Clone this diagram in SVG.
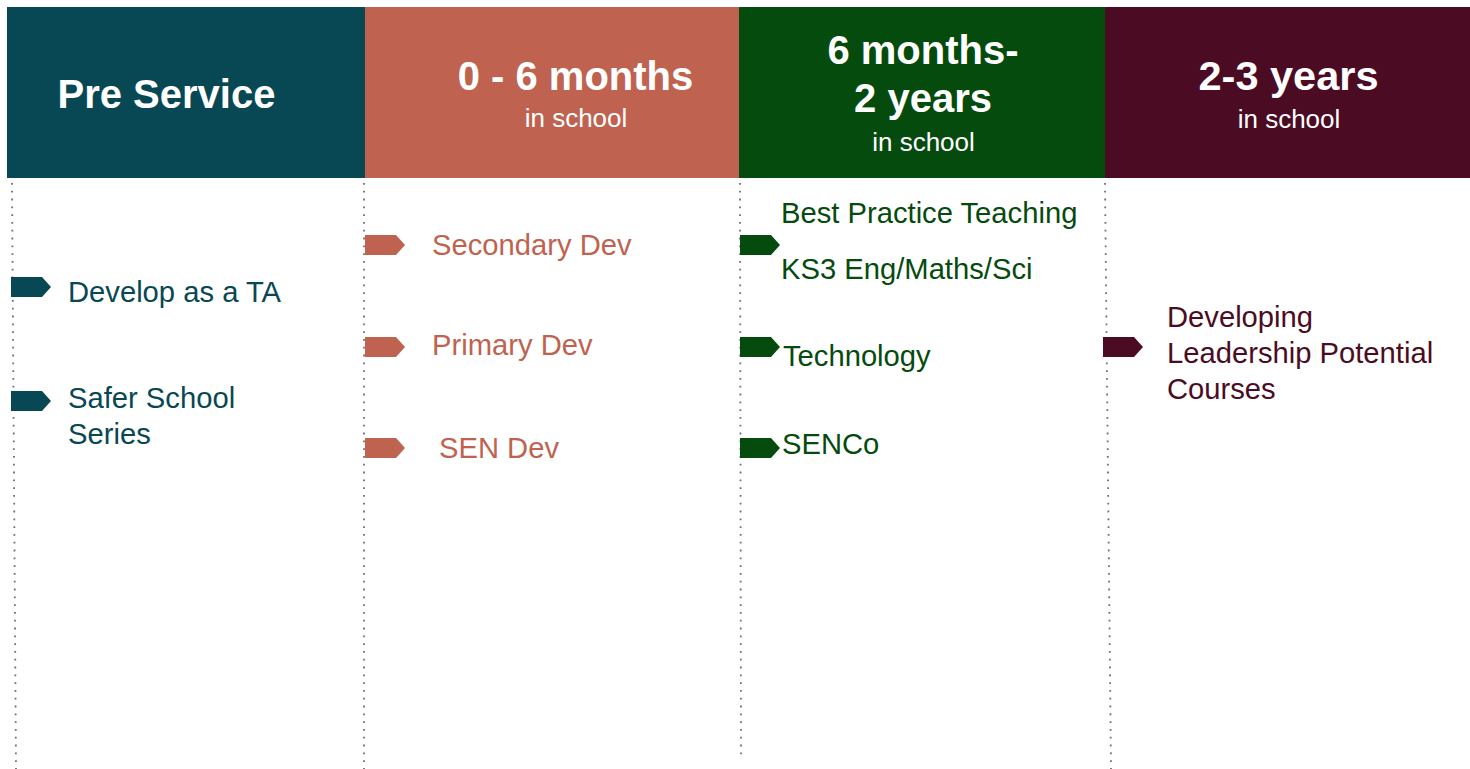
<svg xmlns="http://www.w3.org/2000/svg" width="1470" height="769" viewBox="0 0 1470 769">
<style>
text{font-family:"Liberation Sans",Arial,sans-serif}
.h{font-weight:bold;font-size:40px;fill:#fff;text-anchor:middle}
.s{font-size:26px;fill:#fff;text-anchor:middle}
.i{font-size:29.2px}
.dot{stroke:#6f6f6f;stroke-width:1.8;stroke-dasharray:1.8 6;fill:none}
.c1{fill:#084854}.c2{fill:#bf6350}.c3{fill:#054b0d}.c4{fill:#4b0c23}
</style>
<defs>
<path id="tag" d="M0 0H31L40 10L31 20H0Z"/>
</defs>
<g id="guides">
<line class="dot" x1="12" y1="183" x2="16" y2="769"/>
<line class="dot" x1="364" y1="183" x2="364" y2="769"/>
<line class="dot" x1="740" y1="183" x2="741" y2="760"/>
<line class="dot" x1="1105" y1="183" x2="1111" y2="769"/>
</g>
<g id="header-pre-service">
<rect class="c1" x="7" y="7" width="358" height="171"/>
<text class="h" x="166.5" y="108">Pre Service</text>
</g>
<g id="header-0-6-months">
<rect class="c2" x="365" y="7" width="375" height="171"/>
<text class="h" x="575.5" y="90">0 - 6 months</text>
<text class="s" x="576" y="127">in school</text>
</g>
<g id="header-6-months-2-years">
<rect class="c3" x="739" y="7" width="366" height="171"/>
<text class="h" x="923" y="64">6 months-</text>
<text class="h" x="923" y="112">2 years</text>
<text class="s" x="923.5" y="151">in school</text>
</g>
<g id="header-2-3-years">
<rect class="c4" x="1105" y="7" width="365" height="171"/>
<text class="h" x="1288.5" y="90" style="font-size:41.5px">2-3 years</text>
<text class="s" x="1289" y="128">in school</text>
</g>
<g id="item-develop-ta">
<use href="#tag" class="c1" x="11" y="277"/>
<text class="i c1" x="68" y="302">Develop as a TA</text>
</g>
<g id="item-safer-school">
<use href="#tag" class="c1" x="11" y="391"/>
<text class="i c1" x="68" y="408">Safer School</text>
<text class="i c1" x="68" y="444">Series</text>
</g>
<g id="item-secondary-dev">
<use href="#tag" class="c2" x="365" y="235"/>
<text class="i c2" x="432" y="255">Secondary Dev</text>
</g>
<g id="item-primary-dev">
<use href="#tag" class="c2" x="365" y="337"/>
<text class="i c2" x="432" y="355">Primary Dev</text>
</g>
<g id="item-sen-dev">
<use href="#tag" class="c2" x="365" y="438"/>
<text class="i c2" x="439" y="458">SEN Dev</text>
</g>
<g id="item-best-practice">
<use href="#tag" class="c3" x="740" y="235"/>
<text class="i c3" x="781" y="223">Best Practice Teaching</text>
<text class="i c3" x="781" y="279">KS3 Eng/Maths/Sci</text>
</g>
<g id="item-technology">
<use href="#tag" class="c3" x="740" y="337"/>
<text class="i c3" x="783" y="366">Technology</text>
</g>
<g id="item-senco">
<use href="#tag" class="c3" x="740" y="438"/>
<text class="i c3" x="782" y="454">SENCo</text>
</g>
<g id="item-leadership">
<use href="#tag" class="c4" x="1103" y="337"/>
<text class="i c4" x="1167" y="327">Developing</text>
<text class="i c4" x="1167" y="363">Leadership Potential</text>
<text class="i c4" x="1167" y="399">Courses</text>
</g>
</svg>
